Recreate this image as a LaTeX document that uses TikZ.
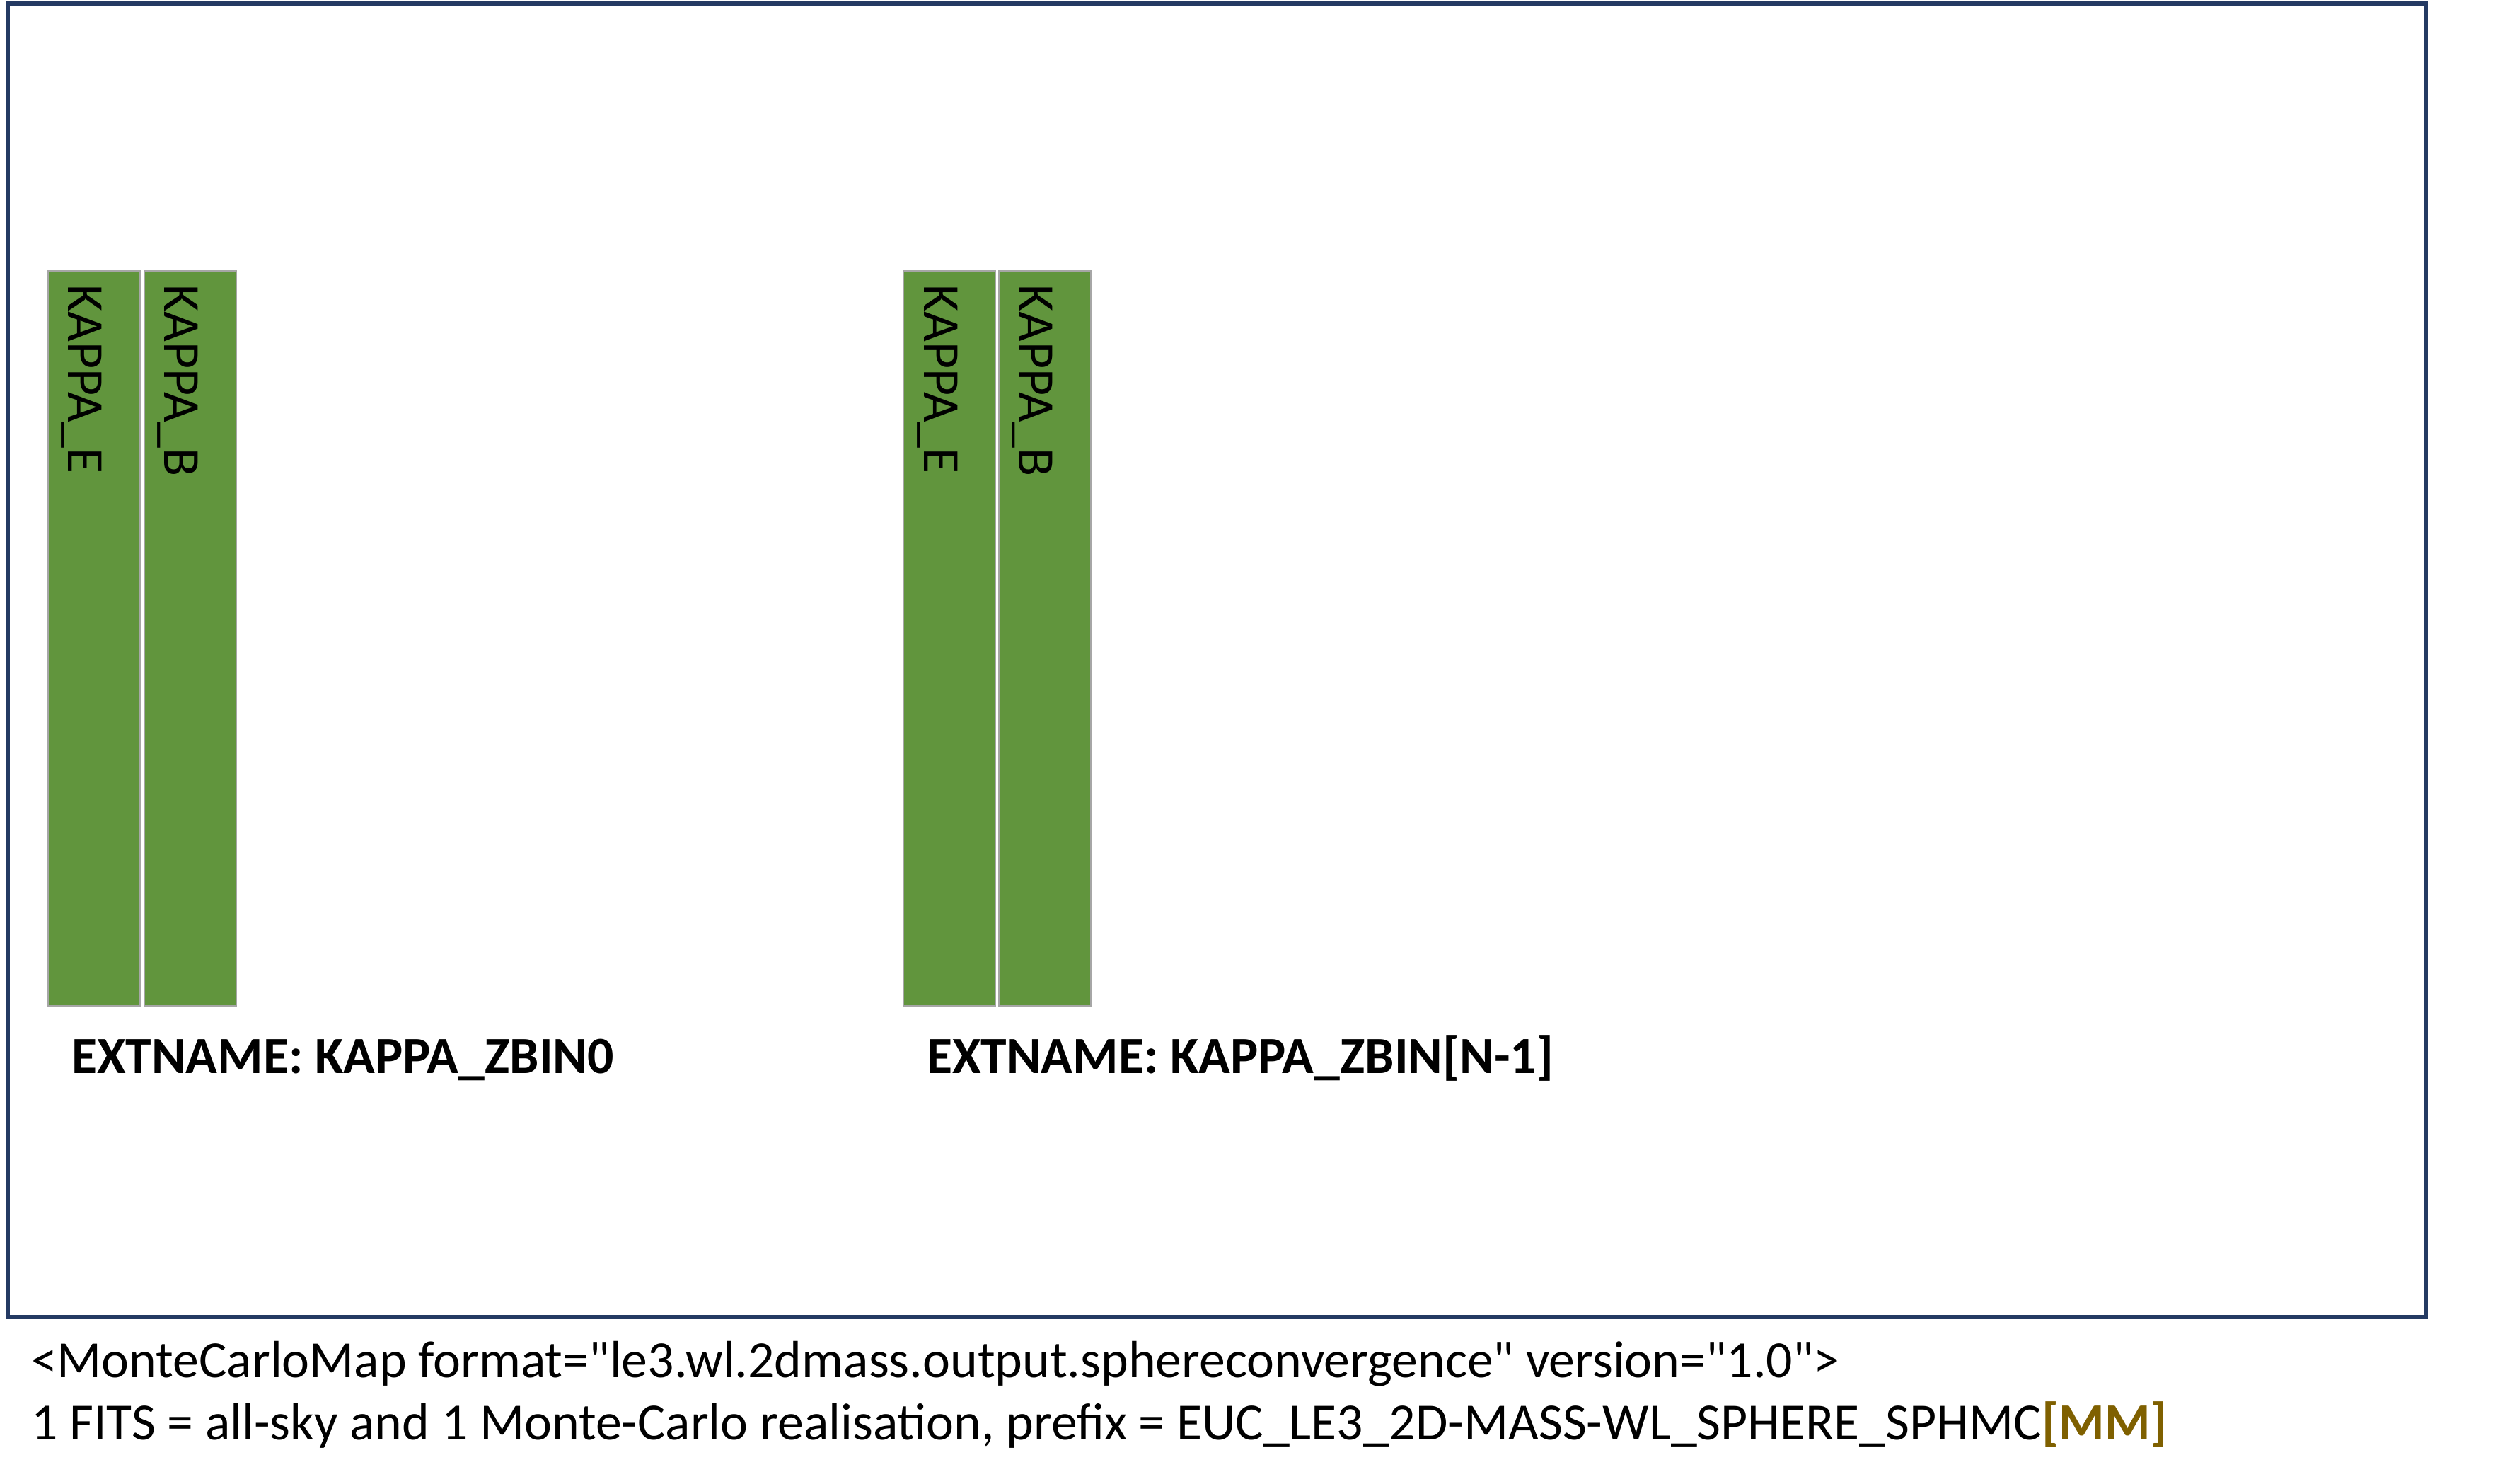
\documentclass[tikz,border=0pt]{standalone}
\usepackage{fontspec}
\setmainfont{Carlito}[Ligatures=TeXOff]
\definecolor{framecol}{RGB}{36,58,99}
\definecolor{hdugreen}{RGB}{97,149,61}
\definecolor{hdugray}{RGB}{166,166,166}
\definecolor{mmcol}{RGB}{127,96,0}

\begin{document}
\begin{tikzpicture}
	[line width=0.6,
	colbox/.style = {
		draw=hdugray,
		fill=hdugreen,
		line width=0.7pt,
		minimum width = 1.30cm,
		minimum height = 10.39cm,
		inner sep=0pt
	},
	colname/.style = {
		rotate=-90,
		anchor=base west,
		inner sep=0pt,
		font=\fontsize{21}{25}\selectfont
	},
	extname/.style = {
		anchor=base west,
		inner sep=0pt,
		font=\fontsize{21}{25}\selectfont\bfseries
	},
	note/.style = {
		anchor=base west,
		inner sep=0pt,
		font=\fontsize{21}{25}\selectfont
	}]
	
	\useasboundingbox (0,0) rectangle (35.58,-20.98);
	
	%Draw frame
	\draw[framecol, line width=1.85pt] (0.11,-0.045) rectangle (34.29,-18.62);
	
	%Draw nodes
	\node[colbox] at (1.33,-9.025) (binE0) {};
	\node[colbox] at (2.69,-9.025) (binB0) {};
	\node[colbox] at (13.42,-9.025) (binEN) {};
	\node[colbox] at (14.77,-9.025) (binBN) {};
	
	\node[colname] at (0.96,-4.01) (labE0) {KAPPA\_E};
	\node[colname] at (2.32,-4.01) (labB0) {KAPPA\_B};
	\node[colname] at (13.06,-4.01) (labEN) {KAPPA\_E};
	\node[colname] at (14.40,-4.01) (labBN) {KAPPA\_B};
	
	\node[extname] at (1.00,-15.17) (ext0) {EXTNAME: KAPPA\_ZBIN0};
	\node[extname] at (13.09,-15.17) (extN) {EXTNAME: KAPPA\_ZBIN[N-1]};
	
	%Draw footer
	\node[note] at (0.43,-19.47) (fmt) {<MonteCarloMap format="le3.wl.2dmass.output.sphereconvergence" version="1.0">};
	\node[note] at (0.43,-20.35) (pfx) {1 FITS = all-sky and 1 Monte-Carlo realisation, prefix = EUC\_LE3\_2D-MASS-WL\_SPHERE\_SPHMC\textcolor{mmcol}{\bfseries[MM]}};
	
\end{tikzpicture}
\end{document}
